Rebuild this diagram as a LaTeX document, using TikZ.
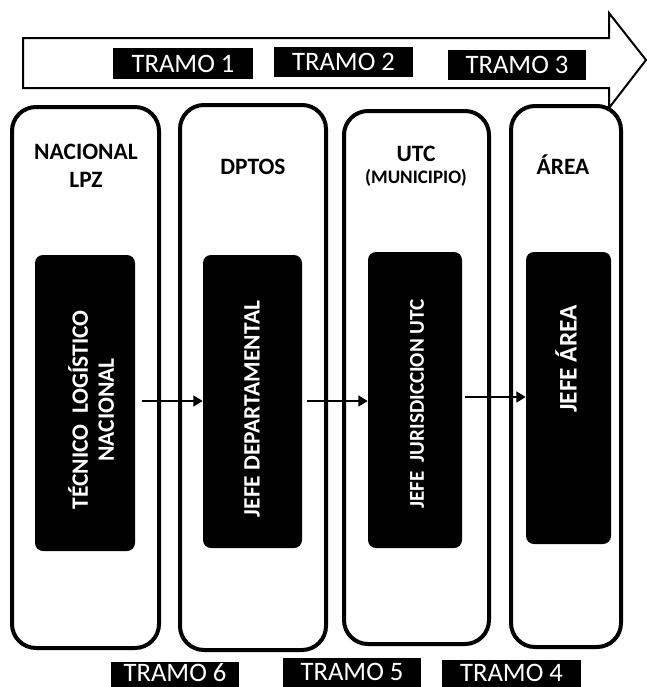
\documentclass[tikz,border=0pt]{standalone}
\usepackage{fontspec}
\setmainfont{Carlito}
\usetikzlibrary{arrows.meta}
\begin{document}
\begin{tikzpicture}[x=0.75pt,y=-0.75pt,
  lane/.style={draw=black, line width=3pt, rounded corners=18pt, inner sep=0pt},
  blk/.style={fill=black, rounded corners=6pt, inner sep=0pt},
  hdr/.style={font=\bfseries\fontsize{17.6}{21}\selectfont, align=center, inner sep=0pt},
  vtxt/.style={text=white, rotate=90, align=center, inner sep=0pt, font=\bfseries\fontsize{17.6}{19.5}\selectfont},
  tram/.style={fill=black, inner sep=0pt},
  tramtxt/.style={text=white, inner sep=0pt, font=\fontsize{20}{24}\selectfont},
  conn/.style={line width=2.2pt, -{Triangle[length=7pt,width=8pt]}}]
\useasboundingbox (0,0) rectangle (647,687);
\fill[white] (0,0) rectangle (647,687);

% big arrow
\draw[line width=1.5pt, line join=miter]
  (23,38) -- (609,38) -- (609,13) -- (646,60) -- (609,108) -- (609,88) -- (23,88) -- cycle;

% top labels
\node[tram, minimum width=105pt, minimum height=23.25pt] (t1) at (183,63.5) {};
\node[tramtxt] (t1x) at (t1) {TRAMO 1};
\node[tram, minimum width=104.25pt, minimum height=22.5pt] (t2) at (343.5,62) {};
\node[tramtxt] (t2x) at (t2) {TRAMO 2};
\node[tram, minimum width=103.5pt, minimum height=22.5pt] (t3) at (517,65) {};
\node[tramtxt] (t3x) at (t3) {TRAMO 3};

% lanes
\node[lane, minimum width=110.25pt, minimum height=405.75pt] (o1) at (85.5,377.5) {};
\node[lane, minimum width=109.5pt, minimum height=408.75pt] (o2) at (253,377.5) {};
\node[lane, minimum width=108.75pt, minimum height=399.75pt] (o3) at (416.5,377.5) {};
\node[lane, minimum width=82.5pt, minimum height=405.75pt] (o4) at (566,376.5) {};

% headers
\node[hdr] (h1) at (86,166) {NACIONAL\\LPZ};
\node[hdr] (h2) at (253,167) {DPTOS};
\node[hdr] (h3) at (416,154) {UTC};
\node[hdr, font=\bfseries\fontsize{14.3}{17}\selectfont] (h3b) at (416,178) {(MUNICIPIO)};
\node[hdr] (h4) at (563,165) {ÁREA};

% black boxes
\node[blk, minimum width=75pt, minimum height=222pt] (b1) at (85,403) {};
\node[blk, minimum width=74.25pt, minimum height=219.75pt] (b2) at (252.5,401.5) {};
\node[blk, minimum width=70.5pt, minimum height=222pt] (b3) at (415,400) {};
\node[blk, minimum width=63.75pt, minimum height=219pt] (b4) at (568.5,398) {};

\node[vtxt] (l1) at (91,410) {TÉCNICO\ \ LOGÍSTICO\\NACIONAL};
\node[vtxt] (l2) at (252,409) {JEFE DEPARTAMENTAL};
\node[vtxt, font=\bfseries\fontsize{15.8}{18}\selectfont] (l3) at (417,404) {JEFE\ \ JURISDICCION UTC};
\node[vtxt, font=\bfseries\fontsize{19}{22}\selectfont] (l4) at (566,359) {JEFE ÁREA};

% connectors
\coordinate (s1) at (142,401);
\coordinate (s2) at (307,401);
\coordinate (s3) at (465,397);
\draw[conn] (s1) -- (s1 -| b2.west);
\draw[conn] (s2) -- (s2 -| b3.west);
\draw[conn] (s3) -- (s3 -| b4.west);

% bottom labels
\node[tram, anchor=north, minimum width=96pt, minimum height=18.75pt] (t6) at (175,662) {};
\node[tramtxt] (t6x) at (175,673) {TRAMO 6};
\node[tram, anchor=north, minimum width=103.5pt, minimum height=21.75pt] (t5) at (352,658) {};
\node[tramtxt] (t5x) at (352,672) {TRAMO 5};
\node[tram, anchor=north, minimum width=104.25pt, minimum height=20.25pt] (t4) at (511.5,660) {};
\node[tramtxt] (t4x) at (511.5,673) {TRAMO 4};
\end{tikzpicture}
\end{document}
